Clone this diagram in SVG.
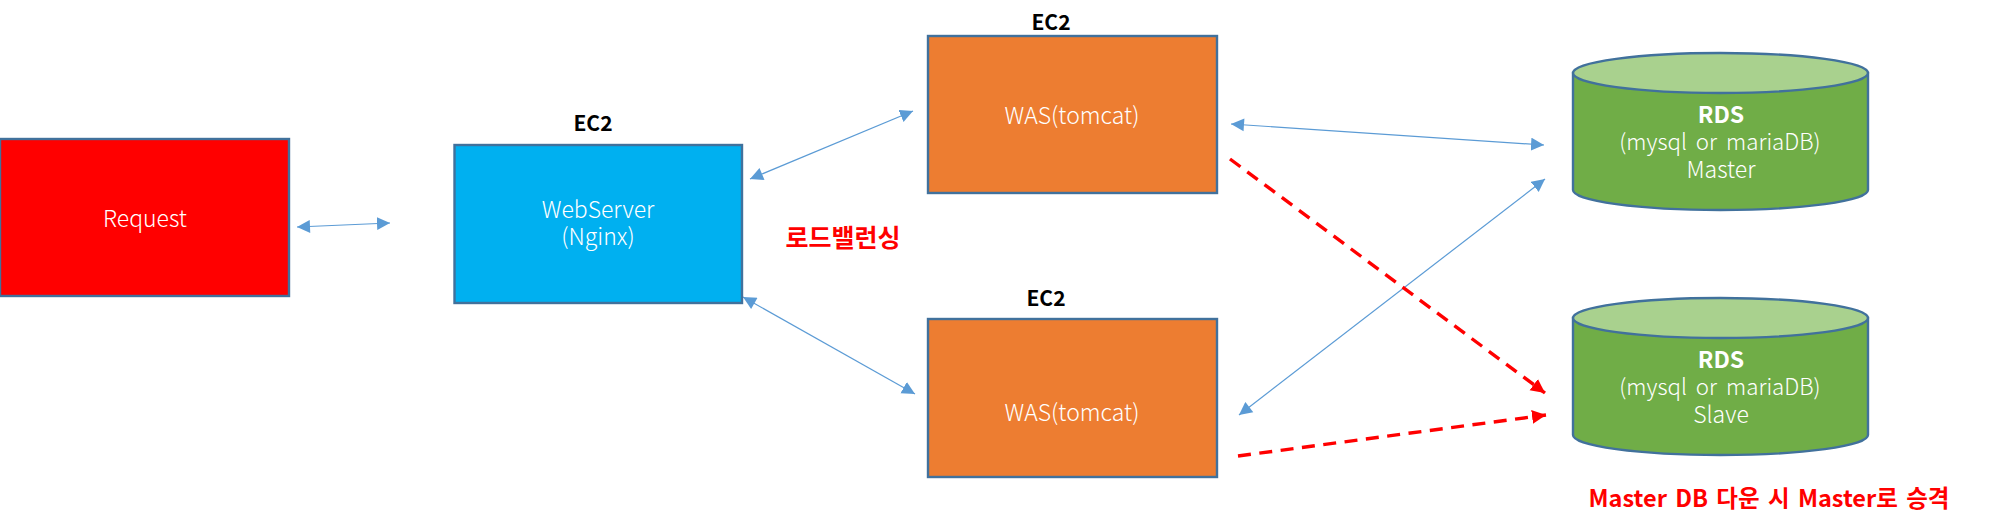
<svg xmlns="http://www.w3.org/2000/svg" width="1991" height="527" viewBox="0 0 1991 527">
<style>
text{font-family:"Noto Sans CJK KR","Noto Sans",sans-serif;text-anchor:middle}
.w{fill:#fff;font-size:23px;font-weight:300}
.m{font-size:22.300px;word-spacing:4px}
.wb{fill:#fff;font-size:23px;font-weight:700}
.e{fill:#000;font-size:21px;font-weight:700}
.r{fill:#f00;font-weight:700}
.box{stroke:#41719c;stroke-width:2.4}
.cyl{fill:#70ad47;stroke:#41719c;stroke-width:2.4}
.top{fill:#a9d18e;stroke:#41719c;stroke-width:2.4}
.c{fill:none;stroke:#5b9bd5;stroke-width:1.2;marker-start:url(#bs);marker-end:url(#be)}
.d{fill:none;stroke:#f00;stroke-width:3.4;stroke-dasharray:13 8.500;marker-end:url(#re)}
</style>
<defs>
<marker id="be" markerUnits="userSpaceOnUse" markerWidth="14" markerHeight="14" refX="13" refY="6.500" orient="auto"><path d="M0 0L13 6.500L0 13Z" fill="#5b9bd5"/></marker>
<marker id="bs" markerUnits="userSpaceOnUse" markerWidth="14" markerHeight="14" refX="0" refY="6.500" orient="auto"><path d="M13 0L0 6.500L13 13Z" fill="#5b9bd5"/></marker>
<marker id="re" markerUnits="userSpaceOnUse" markerWidth="15" markerHeight="15" refX="14" refY="7" orient="auto"><path d="M0 0L14 7L0 14Z" fill="#f00"/></marker>
</defs>
<g id="connectors">
<line class="c" x1="297" y1="227" x2="390" y2="223"/>
<line class="c" x1="750" y1="179" x2="913" y2="111"/>
<line class="c" x1="743" y1="297" x2="915" y2="394"/>
<line class="c" x1="1231" y1="124" x2="1544" y2="145"/>
<line class="c" x1="1239" y1="415" x2="1545" y2="179"/>
<line class="d" x1="1230" y1="159" x2="1545" y2="393"/>
<line class="d" x1="1238" y1="456" x2="1546" y2="415"/>
</g>
<g id="request"><rect class="box" x="0" y="139" width="289" height="157" fill="#f00"/><text class="w" x="145" y="227">Request</text></g>
<g id="webserver"><rect class="box" x="454.500" y="145" width="287.500" height="158" fill="#00b0f0"/><text class="e" x="593" y="131">EC2</text><text class="w" x="598" y="218">WebServer<tspan x="598" y="245">(Nginx)</tspan></text></g>
<g id="was1"><rect class="box" x="928" y="36" width="289" height="157" fill="#ed7d31"/><text class="e" x="1051" y="30">EC2</text><text class="w" x="1072" y="124">WAS(tomcat)</text></g>
<g id="was2"><rect class="box" x="928" y="319" width="289" height="158" fill="#ed7d31"/><text class="e" x="1046" y="306">EC2</text><text class="w" x="1072" y="421">WAS(tomcat)</text></g>
<g id="rds-master"><path class="cyl" d="M1573 73V190A147.500 20 0 0 0 1868 190V73Z"/><ellipse class="top" cx="1720.500" cy="73" rx="147.500" ry="20"/><text class="wb" x="1721" y="123">RDS<tspan class="w m" x="1720" y="150">(mysql or mariaDB)</tspan><tspan class="w" x="1721" y="178">Master</tspan></text></g>
<g id="rds-slave"><path class="cyl" d="M1573 318V435A147.500 20 0 0 0 1868 435V318Z"/><ellipse class="top" cx="1720.500" cy="318" rx="147.500" ry="20"/><text class="wb" x="1721" y="368">RDS<tspan class="w m" x="1720" y="395">(mysql or mariaDB)</tspan><tspan class="w" x="1721" y="423">Slave</tspan></text></g>
<text class="r" x="843" y="247" font-size="25">로드밸런싱</text>
<text class="r" x="1769" y="507" font-size="23.500" word-spacing="3">Master DB 다운 시 Master로 승격</text>
</svg>
